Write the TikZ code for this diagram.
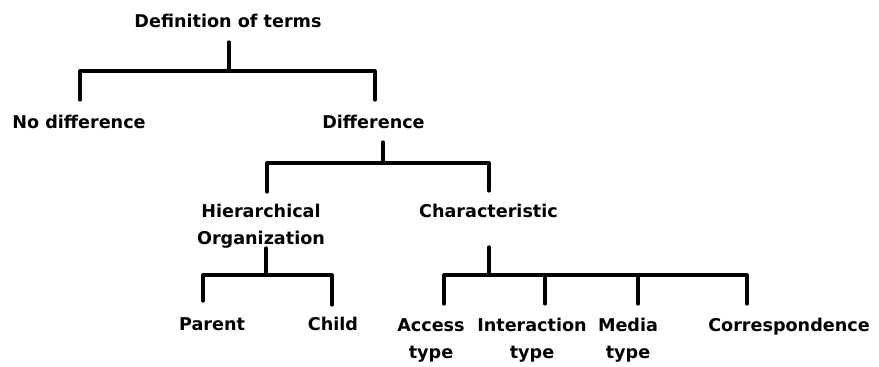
\documentclass[tikz,border=0pt]{standalone}
\usepackage{fontspec}
\setmainfont{DejaVu Sans}
\begin{document}
\begin{tikzpicture}[x=1pt,y=-1pt,
  lbl/.style={font=\bfseries\fontsize{17.6}{27}\selectfont, inner sep=0pt, anchor=base, align=center},
  tree/.style={line width=3.2pt, line join=round, line cap=round}]
\useasboundingbox (0,0) rectangle (879,367);
% labels (anchor = baseline of the last line)
\node[lbl] (def) at (228,27) {Definition of terms};
\node[lbl] (nodiff) at (79,128) {No difference};
\node[lbl] (diff) at (373.5,128) {Difference};
\node[lbl] (hier) at (261,244) {Hierarchical\\Organization};
\node[lbl] (char) at (488.5,217) {Characteristic};
\node[lbl] (parent) at (212,330) {Parent};
\node[lbl] (child) at (333,330) {Child};
\node[lbl] (access) at (431,358) {Access\\type};
\node[lbl] (inter) at (532,358) {Interaction\\type};
\node[lbl] (media) at (628,358) {Media\\type};
\node[lbl] (corr) at (789,331) {Correspondence};
% connector points
\coordinate (defT) at (229,42);  \coordinate (defJ) at (229,71);
\coordinate (nodiffT) at (80,100); \coordinate (diffT) at (375,100);
\coordinate (diffB) at (383,142); \coordinate (diffJ) at (383,163);
\coordinate (hierT) at (267,192); \coordinate (charT) at (489,191);
\coordinate (hierB) at (266,248); \coordinate (hierJ) at (266,275);
\coordinate (parentT) at (203,301); \coordinate (childT) at (332,305);
\coordinate (charB) at (489,247); \coordinate (charJ) at (489,275);
\coordinate (accessT) at (444,304); \coordinate (interT) at (545,304);
\coordinate (mediaT) at (638,304); \coordinate (corrT) at (747,304);
% connectors
\draw[tree] (defT) -- (defJ);
\draw[tree] (nodiffT) |- (defJ) -| (diffT);
\draw[tree] (diffB) -- (diffJ);
\draw[tree] (hierT) |- (diffJ) -| (charT);
\draw[tree] (hierB) -- (hierJ);
\draw[tree] (parentT) |- (hierJ) -| (childT);
\draw[tree] (charB) -- (charJ);
\draw[tree] (accessT) |- (charJ) -| (corrT);
\draw[tree] (interT) -- (interT |- charJ);
\draw[tree] (mediaT) -- (mediaT |- charJ);
\end{tikzpicture}
\end{document}
